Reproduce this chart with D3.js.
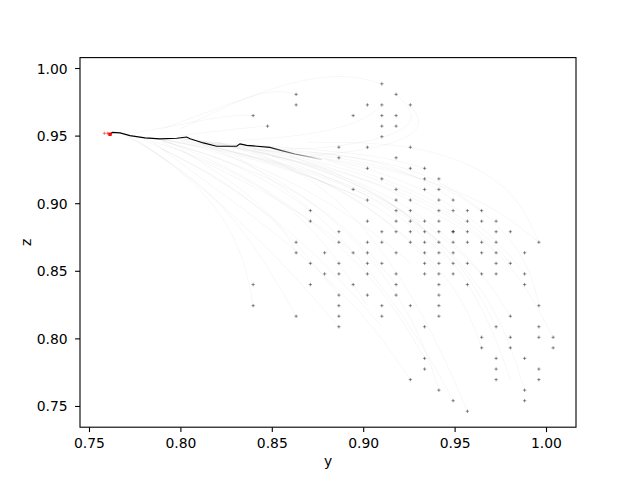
<!DOCTYPE html>
<html>
<head>
<meta charset="utf-8">
<script src="https://cdn.jsdelivr.net/npm/d3@7"></script>
<style>
body { margin: 0; background: #fff; }
svg text { font-family: "DejaVu Sans", sans-serif; }
</style>
</head>
<body>
<div id="chart"></div>
<script>
// sampled grid: each row is [z, [y values on that row]]
var gridRows = [
    [0.9883, [0.9102]],
    [0.9805, [0.8633, 0.9180]],
    [0.9727, [0.8633, 0.9023, 0.9102, 0.9258]],
    [0.9648, [0.8398, 0.8945, 0.9102, 0.9180]],
    [0.9570, [0.8477, 0.9102, 0.9180]],
    [0.9492, [0.9102]],
    [0.9414, [0.8867, 0.9023, 0.9258]],
    [0.9336, [0.8867, 0.9180]],
    [0.9258, [0.9023, 0.9258, 0.9336]],
    [0.9180, [0.9102, 0.9336, 0.9414]],
    [0.9102, [0.8945, 0.9180, 0.9336, 0.9414]],
    [0.9023, [0.9023, 0.9180, 0.9258, 0.9414, 0.9492]],
    [0.8945, [0.8711, 0.9180, 0.9258, 0.9414, 0.9492, 0.9570, 0.9648]],
    [0.8867, [0.8711, 0.9023, 0.9180, 0.9258, 0.9336, 0.9414, 0.9570, 0.9648, 0.9727]],
    [0.8789, [0.8867, 0.9102, 0.9180, 0.9258, 0.9336, 0.9414, 0.9492, 0.9492, 0.9570, 0.9727, 0.9805]],
    [0.8711, [0.8633, 0.8867, 0.9023, 0.9102, 0.9258, 0.9336, 0.9414, 0.9492, 0.9570, 0.9648, 0.9727, 0.9961]],
    [0.8633, [0.8633, 0.8789, 0.8945, 0.9023, 0.9180, 0.9336, 0.9414, 0.9492, 0.9648, 0.9727, 0.9883]],
    [0.8555, [0.8711, 0.8867, 0.9023, 0.9102, 0.9336, 0.9414, 0.9492, 0.9570, 0.9727, 0.9805]],
    [0.8477, [0.8789, 0.8867, 0.9023, 0.9180, 0.9336, 0.9414, 0.9492, 0.9648, 0.9727, 0.9883]],
    [0.8398, [0.8398, 0.8711, 0.8945, 0.9180, 0.9414, 0.9570, 0.9883]],
    [0.8320, [0.8867, 0.9023, 0.9180, 0.9414]],
    [0.8242, [0.8398, 0.8867, 0.9102, 0.9258, 0.9414, 0.9961]],
    [0.8164, [0.8633, 0.8867, 0.9102, 0.9414, 0.9805]],
    [0.8086, [0.8867, 0.9336, 0.9727, 0.9961]],
    [0.8008, [0.9648, 0.9805, 0.9961, 1.0039]],
    [0.7930, [0.9648, 0.9805, 1.0039]],
    [0.7852, [0.9336, 0.9727, 0.9883]],
    [0.7773, [0.9336, 0.9727, 0.9961]],
    [0.7695, [0.9258, 0.9727, 0.9961]],
    [0.7617, [0.9414, 0.9883]],
    [0.7539, [0.9492, 0.9883]],
    [0.7461, [0.9570]]
];

// the highlighted (mean) trajectory
var meanY = [0.7619, 0.7627, 0.7670, 0.7724, 0.7806, 0.7888, 0.7980, 0.8034, 0.8053, 0.8125,
    0.8199, 0.8308, 0.8326, 0.8363, 0.8490];
var meanZ = [0.9513, 0.9524, 0.9520, 0.9500, 0.9483, 0.9476, 0.9480, 0.9490, 0.9476, 0.9446,
    0.9421, 0.9421, 0.9439, 0.9428, 0.9413];
// fading tail of the mean trajectory
var tailY = [0.8490, 0.8554, 0.8627, 0.8718, 0.8773];
var tailZ = [0.9413, 0.9389, 0.9364, 0.9339, 0.9322];

// start markers
var startY = [0.7584, 0.7602];
var startZ = [0.9517, 0.9517];
var endY = [0.7615];
var endZ = [0.9510];

// faint individual trajectories [y, z]
var trajectories = [
    [[0.9961, 0.8711], [0.970, 0.900], [0.920, 0.925], [0.860, 0.937], [0.800, 0.948]],
    [[1.0039, 0.8008], [0.985, 0.850], [0.950, 0.895], [0.890, 0.928], [0.830, 0.943]],
    [[0.9570, 0.7461], [0.940, 0.800], [0.910, 0.870], [0.870, 0.925], [0.820, 0.945]],
    [[0.9883, 0.7617], [0.975, 0.820], [0.940, 0.880], [0.880, 0.930], [0.800, 0.948]],
    [[0.9805, 0.8164], [0.960, 0.860], [0.920, 0.905], [0.860, 0.935], [0.810, 0.946]],
    [[0.9414, 0.7617], [0.930, 0.810], [0.900, 0.870], [0.860, 0.915], [0.810, 0.945]],
    [[0.9336, 0.7852], [0.910, 0.840], [0.870, 0.890], [0.830, 0.925], [0.790, 0.947]],
    [[0.9258, 0.7695], [0.900, 0.820], [0.860, 0.870], [0.820, 0.910], [0.785, 0.945]],
    [[0.8945, 0.8633], [0.870, 0.890], [0.830, 0.920], [0.790, 0.945]],
    [[0.8633, 0.8164], [0.845, 0.860], [0.820, 0.905], [0.790, 0.935], [0.770, 0.950]],
    [[0.8398, 0.8242], [0.835, 0.860], [0.820, 0.900], [0.790, 0.935], [0.772, 0.949]],
    [[0.8867, 0.8086], [0.860, 0.850], [0.830, 0.890], [0.800, 0.925], [0.775, 0.948]],
    [[0.9102, 0.9883], [0.890, 0.996], [0.860, 0.990], [0.830, 0.975], [0.800, 0.955]],
    [[0.9180, 0.9805], [0.930, 0.965], [0.920, 0.950], [0.880, 0.940], [0.850, 0.940]],
    [[0.8633, 0.9805], [0.850, 0.985], [0.820, 0.970], [0.790, 0.955]],
    [[0.9258, 0.9727], [0.935, 0.955], [0.910, 0.940], [0.870, 0.935]],
    [[0.9492, 0.9023], [0.930, 0.920], [0.900, 0.935], [0.850, 0.940], [0.800, 0.948]],
    [[0.9648, 0.8945], [0.950, 0.910], [0.920, 0.930], [0.870, 0.938]],
    [[0.9727, 0.8086], [0.955, 0.855], [0.920, 0.900], [0.870, 0.930], [0.820, 0.945]],
    [[0.9961, 0.8242], [0.990, 0.860], [0.960, 0.905], [0.910, 0.930], [0.850, 0.940]],
    [[0.9570, 0.8789], [0.930, 0.900], [0.890, 0.925], [0.840, 0.940]],
    [[0.9180, 0.8398], [0.900, 0.870], [0.870, 0.905], [0.830, 0.930], [0.790, 0.946]],
    [[0.9805, 0.8555], [0.965, 0.880], [0.930, 0.910], [0.880, 0.932]],
    [[0.9023, 0.8242], [0.885, 0.860], [0.860, 0.900], [0.820, 0.930], [0.780, 0.948]],
    [[0.8711, 0.8945], [0.850, 0.915], [0.820, 0.935], [0.790, 0.946]],
    [[0.9414, 0.8477], [0.920, 0.880], [0.890, 0.910], [0.850, 0.932], [0.800, 0.947]],
    [[0.8398, 0.9648], [0.825, 0.965], [0.800, 0.958], [0.775, 0.952]],
    [[0.9648, 0.7930], [0.955, 0.830], [0.930, 0.870], [0.890, 0.910], [0.840, 0.938]],
    [[0.9961, 0.8711], [0.985, 0.905], [0.960, 0.930], [0.920, 0.945], [0.870, 0.945]],
    [[0.9492, 0.7539], [0.935, 0.790], [0.905, 0.850], [0.870, 0.900], [0.830, 0.935]],
    [[0.8477, 0.9570], [0.830, 0.955], [0.800, 0.950]],
    [[0.9102, 0.8086], [0.890, 0.840], [0.860, 0.880], [0.820, 0.920], [0.780, 0.947]],
    [[0.9805, 0.7695], [0.970, 0.810], [0.950, 0.860], [0.910, 0.910], [0.860, 0.935]],
    [[0.9883, 0.8477], [0.975, 0.870], [0.950, 0.900], [0.900, 0.930], [0.840, 0.940]],
    [[0.8633, 0.8633], [0.855, 0.885], [0.830, 0.915], [0.800, 0.940]],
    [[0.9336, 0.9258], [0.910, 0.935], [0.870, 0.940], [0.830, 0.944]],
    [[0.9414, 0.8711], [0.920, 0.895], [0.880, 0.920], [0.830, 0.938], [0.790, 0.947]],
    [[0.9727, 0.8633], [0.950, 0.890], [0.910, 0.915], [0.860, 0.933], [0.810, 0.946]],
    [[0.9258, 0.8555], [0.905, 0.880], [0.870, 0.910], [0.830, 0.935], [0.790, 0.948]],
    [[0.9023, 0.9023], [0.880, 0.915], [0.850, 0.930], [0.810, 0.945]],
    [[0.9180, 0.8867], [0.900, 0.905], [0.860, 0.925], [0.820, 0.940], [0.780, 0.949]],
    [[0.9648, 0.8477], [0.945, 0.875], [0.910, 0.905], [0.860, 0.930], [0.800, 0.946]],
    [[0.9102, 0.9727], [0.900, 0.960], [0.870, 0.950], [0.830, 0.946]],
    [[0.8867, 0.8320], [0.870, 0.860], [0.850, 0.890], [0.820, 0.920], [0.790, 0.940]],
    [[0.9492, 0.8555], [0.930, 0.880], [0.900, 0.910], [0.850, 0.935]]
];

var xTicks = [0.75, 0.80, 0.85, 0.90, 0.95, 1.00];
var yTicks = [0.75, 0.80, 0.85, 0.90, 0.95, 1.00];


TrajectoryChart = function(_parentElement) {
    this.parentElement = _parentElement;
    this.initVis();
}

TrajectoryChart.prototype.initVis = function() {
    var vis = this;

    vis.svg = d3.select("#" + vis.parentElement).append("svg")
        .attr("width", 640)
        .attr("height", 480);

    // matplotlib default axes box
    vis.left = 80; vis.right = 576;
    vis.top = 57.6; vis.bottom = 427.2;

    vis.x = d3.scaleLinear()
        .domain([0.74508, 1.01641])
        .range([vis.left, vis.right]);

    vis.y = d3.scaleLinear()
        .domain([0.7343, 1.0077])
        .range([vis.bottom, vis.top]);

    vis.svg.append("defs").append("clipPath")
        .attr("id", "plot-clip")
        .append("rect")
        .attr("x", vis.left).attr("y", vis.top)
        .attr("width", vis.right - vis.left)
        .attr("height", vis.bottom - vis.top);

    vis.plot = vis.svg.append("g").attr("clip-path", "url(#plot-clip)");

    // faint trajectories
    var curve = d3.line()
        .x(function(d) { return vis.x(d[0]); })
        .y(function(d) { return vis.y(d[1]); })
        .curve(d3.curveBasis);

    vis.plot.append("g")
        .selectAll("path")
        .data(trajectories)
        .enter().append("path")
        .attr("d", curve)
        .attr("fill", "none")
        .attr("stroke", "#000")
        .attr("stroke-opacity", 0.055)
        .attr("stroke-width", 0.7);

    // grid samples as "+" markers
    var points = [];
    gridRows.forEach(function(row) {
        row[1].forEach(function(v) { points.push([v, row[0]]); });
    });

    vis.plot.append("g")
        .selectAll("path")
        .data(points)
        .enter().append("path")
        .attr("transform", function(d) { return "translate(" + vis.x(d[0]) + "," + vis.y(d[1]) + ")"; })
        .attr("d", "M-1.7,0H1.7M0,-1.7V1.7")
        .attr("stroke", "#000")
        .attr("stroke-opacity", 0.42)
        .attr("stroke-width", 1);

    // mean trajectory
    var line = d3.line()
        .x(function(d) { return vis.x(d[0]); })
        .y(function(d) { return vis.y(d[1]); });

    var grad = vis.svg.select("defs").append("linearGradient")
        .attr("id", "tail-grad")
        .attr("gradientUnits", "userSpaceOnUse")
        .attr("x1", vis.x(tailY[0])).attr("x2", vis.x(tailY[tailY.length - 1]))
        .attr("y1", 0).attr("y2", 0);
    grad.append("stop").attr("offset", "0%").attr("stop-color", "#000").attr("stop-opacity", 0.9);
    grad.append("stop").attr("offset", "100%").attr("stop-color", "#000").attr("stop-opacity", 0.12);

    vis.plot.append("path")
        .datum(tailY.map(function(v, i) { return [v, tailZ[i]]; }))
        .attr("d", line)
        .attr("fill", "none")
        .attr("stroke", "url(#tail-grad)")
        .attr("stroke-width", 1.1);

    vis.plot.append("path")
        .datum(meanY.map(function(v, i) { return [v, meanZ[i]]; }))
        .attr("d", line)
        .attr("fill", "none")
        .attr("stroke", "#000")
        .attr("stroke-width", 1.1);

    // start / end markers
    vis.plot.append("g")
        .selectAll("path")
        .data(startY.map(function(v, i) { return [v, startZ[i]]; }))
        .enter().append("path")
        .attr("transform", function(d) { return "translate(" + vis.x(d[0]) + "," + vis.y(d[1]) + ")"; })
        .attr("d", "M-1.6,0H1.6M0,-1.6V1.6")
        .attr("stroke", "red")
        .attr("stroke-opacity", 0.5)
        .attr("stroke-width", 1);

    vis.plot.append("g")
        .selectAll("rect")
        .data(endY.map(function(v, i) { return [v, endZ[i]]; }))
        .enter().append("rect")
        .attr("x", function(d) { return vis.x(d[0]) - 1.7; })
        .attr("y", function(d) { return vis.y(d[1]) - 1.7; })
        .attr("width", 3.4)
        .attr("height", 3.4)
        .attr("fill", "red");

    // axes
    var xAxis = vis.svg.append("g")
        .attr("transform", "translate(0," + vis.bottom + ")")
        .call(d3.axisBottom(vis.x)
            .tickValues(xTicks)
            .tickFormat(d3.format(".2f"))
            .tickSize(4.9)
            .tickPadding(6.3)
            .tickSizeOuter(0));

    var yAxis = vis.svg.append("g")
        .attr("transform", "translate(" + vis.left + ",0)")
        .call(d3.axisLeft(vis.y)
            .tickValues(yTicks)
            .tickFormat(d3.format(".2f"))
            .tickSize(4.9)
            .tickPadding(7.5)
            .tickSizeOuter(0));

    [xAxis, yAxis].forEach(function(ax) {
        ax.select(".domain").remove();
        ax.selectAll("line").attr("stroke", "#000").attr("stroke-width", 1.1);
        ax.selectAll("text")
            .attr("fill", "#000")
            .style("font-family", "'DejaVu Sans', sans-serif")
            .style("font-size", "13.9px");
    });
    yAxis.selectAll("text").attr("dy", "0.36em");

    vis.svg.append("rect")
        .attr("x", vis.left).attr("y", vis.top)
        .attr("width", vis.right - vis.left)
        .attr("height", vis.bottom - vis.top)
        .attr("fill", "none")
        .attr("stroke", "#000")
        .attr("stroke-width", 1.1);

    vis.svg.append("text")
        .attr("x", (vis.left + vis.right) / 2)
        .attr("y", 466)
        .attr("text-anchor", "middle")
        .style("font-size", "13.9px")
        .text("y");

    vis.svg.append("text")
        .attr("transform", "translate(30.5," + ((vis.top + vis.bottom) / 2) + ") rotate(-90)")
        .attr("text-anchor", "middle")
        .style("font-size", "13.9px")
        .text("z");
}

var chart = new TrajectoryChart("chart");
</script>
</body>
</html>
